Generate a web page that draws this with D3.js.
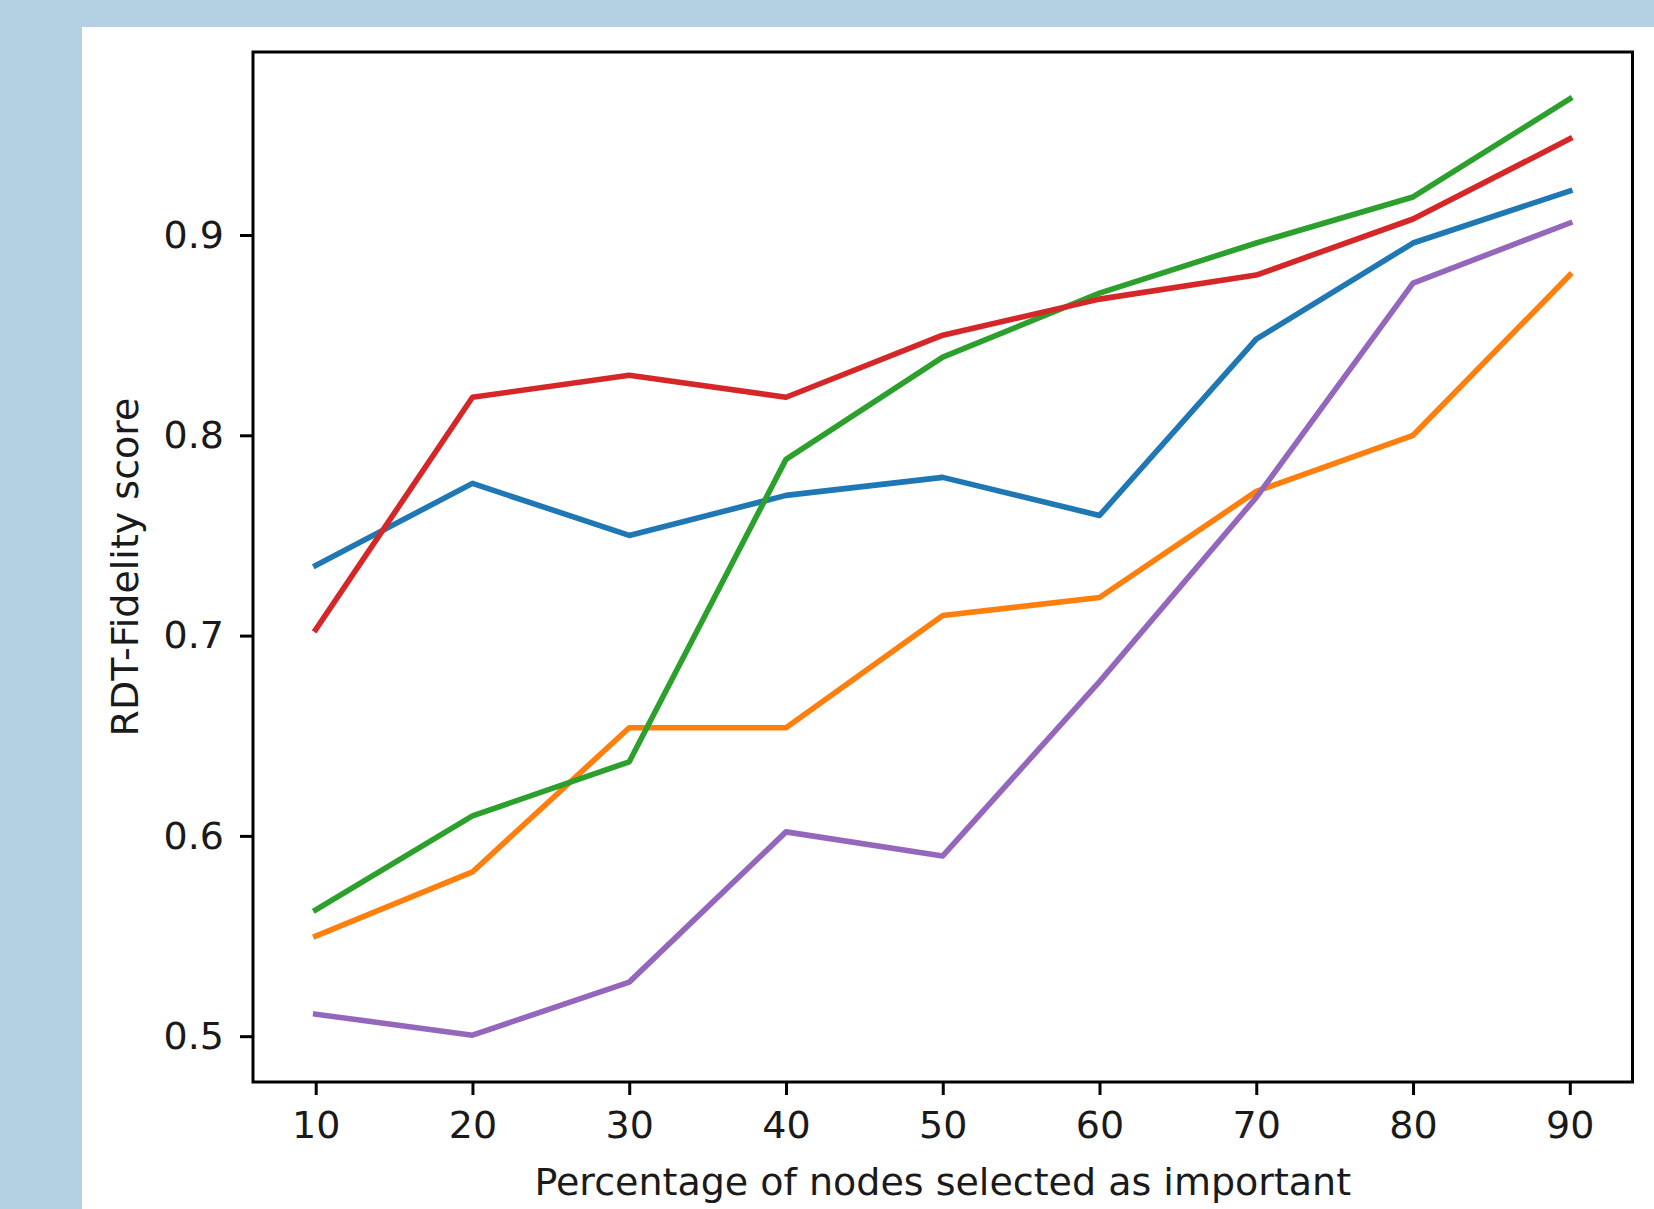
<!DOCTYPE html>
<html>
<head>
<meta charset="utf-8">
<script src="https://cdn.jsdelivr.net/npm/d3@7"></script>
<style>
  html, body { margin: 0; padding: 0; background: #b3d1e2; }
  svg { display: block; }
  text { font-family: "DejaVu Sans", sans-serif; fill: #1a1a1a; }
</style>
</head>
<body>
<svg id="chart" width="1654" height="1209"></svg>
<script>
const xValues = [10, 20, 30, 40, 50, 60, 70, 80, 90];
const xTicks = [10, 20, 30, 40, 50, 60, 70, 80, 90];
const yTicks = [0.5, 0.6, 0.7, 0.8, 0.9];

const seriesBlue   = [0.735, 0.776, 0.750, 0.770, 0.779, 0.760, 0.848, 0.896, 0.922];
const seriesOrange = [0.550, 0.582, 0.654, 0.654, 0.710, 0.719, 0.772, 0.800, 0.880];
const seriesGreen  = [0.563, 0.610, 0.637, 0.788, 0.839, 0.871, 0.896, 0.919, 0.968];
const seriesRed    = [0.703, 0.819, 0.830, 0.819, 0.850, 0.868, 0.880, 0.908, 0.948];
const seriesPurple = [0.511, 0.5005, 0.527, 0.602, 0.590, 0.677, 0.769, 0.876, 0.906];

const seriesList = [seriesBlue, seriesOrange, seriesGreen, seriesRed, seriesPurple];
const colors = ["#1f77b4", "#ff7f0e", "#2ca02c", "#d62728", "#9467bd"];

const xLabel = "Percentage of nodes selected as important";
const yLabel = "RDT-Fidelity score";

const svg = d3.select("#chart");

// white figure panel
svg.append("rect")
  .attr("x", 82).attr("y", 27)
  .attr("width", 1654 - 82).attr("height", 1209 - 27)
  .attr("fill", "#ffffff");

const plotLeft = 253, plotRight = 1632.5, plotTop = 52, plotBottom = 1082;

// matplotlib-style 5% margins
const xMin = d3.min(xValues), xMax = d3.max(xValues);
const xPad = (xMax - xMin) * 0.05;
const allY = seriesList.flat();
const yMin = d3.min(allY), yMax = d3.max(allY);
const yPad = (yMax - yMin) * 0.05;

const x = d3.scaleLinear().domain([xMin - xPad, xMax + xPad]).range([plotLeft, plotRight]);
const y = d3.scaleLinear().domain([yMin - yPad, yMax + yPad]).range([plotBottom, plotTop]);

const fontSize = 38;

// lines
const line = d3.line().x((d, i) => x(xValues[i])).y(d => y(d));
seriesList.forEach((s, k) => {
  svg.append("path")
    .datum(s)
    .attr("d", line)
    .attr("fill", "none")
    .attr("stroke", colors[k])
    .attr("stroke-width", 5.6)
    .attr("stroke-linecap", "square")
    .attr("stroke-linejoin", "round");
});

// axes
const xAxis = svg.append("g")
  .attr("transform", `translate(0,${plotBottom})`)
  .call(d3.axisBottom(x).tickValues(xTicks).tickSize(13).tickPadding(16).tickFormat(d3.format("d")));
const yAxis = svg.append("g")
  .attr("transform", `translate(${plotLeft},0)`)
  .call(d3.axisLeft(y).tickValues(yTicks).tickSize(13).tickPadding(16).tickFormat(d3.format(".1f")));

[xAxis, yAxis].forEach(g => {
  g.select(".domain").remove();
  g.selectAll(".tick line").attr("stroke", "#000").attr("stroke-width", 3);
  g.selectAll(".tick text")
    .attr("font-family", "DejaVu Sans")
    .attr("font-size", fontSize)
    .attr("fill", "#1a1a1a");
});

// frame (spines)
svg.append("rect")
  .attr("x", plotLeft).attr("y", plotTop)
  .attr("width", plotRight - plotLeft).attr("height", plotBottom - plotTop)
  .attr("fill", "none")
  .attr("stroke", "#000")
  .attr("stroke-width", 3);

// axis labels
svg.append("text")
  .attr("x", (plotLeft + plotRight) / 2)
  .attr("y", 1195)
  .attr("text-anchor", "middle")
  .attr("font-size", fontSize)
  .text(xLabel);

svg.append("text")
  .attr("transform", `translate(138,${(plotTop + plotBottom) / 2}) rotate(-90)`)
  .attr("text-anchor", "middle")
  .attr("font-size", fontSize)
  .text(yLabel);
</script>
</body>
</html>
